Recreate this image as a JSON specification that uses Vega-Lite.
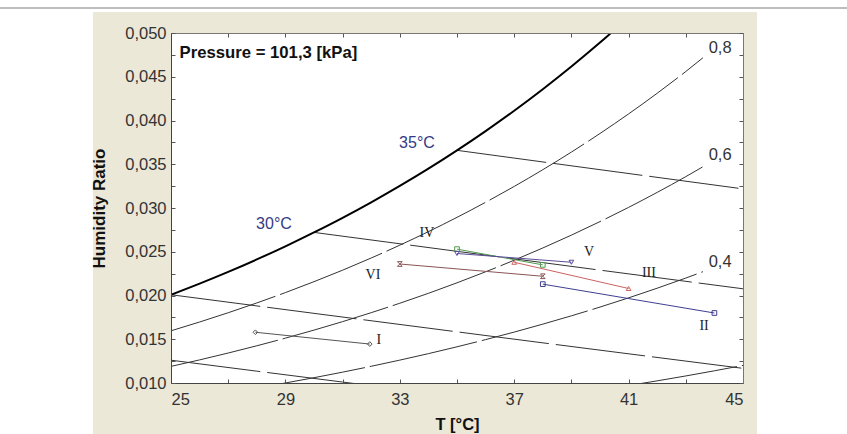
{
  "$schema": "https://vega.github.io/schema/vega-lite/v6.json",
  "autosize": "none",
  "width": 572,
  "height": 350,
  "padding": {"left": 171, "top": 33, "right": 104, "bottom": 51},
  "background": "white",
  "config": {
    "view": {"stroke": null},
    "axis": {"grid": false, "labelFont": "Liberation Sans", "titleFont": "Liberation Sans", "labelColor": "#333333", "titleColor": "#111111", "domainColor": "#555555", "tickColor": "#555555"}
  },
  "resolve": {"axis": {"x": "independent", "y": "independent"}},
  "datasets": {
    "sat": [
      {"T": 25, "W": 0.020087}, {"T": 26, "W": 0.021359}, {"T": 27, "W": 0.022701}, {"T": 28, "W": 0.024123},
      {"T": 29, "W": 0.025624}, {"T": 30, "W": 0.027212}, {"T": 31, "W": 0.028882}, {"T": 32, "W": 0.030655},
      {"T": 33, "W": 0.032526}, {"T": 34, "W": 0.034497}, {"T": 35, "W": 0.036590}, {"T": 36, "W": 0.038793},
      {"T": 37, "W": 0.041116}, {"T": 38, "W": 0.043574}, {"T": 39, "W": 0.046165}, {"T": 40, "W": 0.048903},
      {"T": 41, "W": 0.051788}
    ],
    "rh": [
      {"phi": "0.8", "T": 25, "W": 0.015966}, {"phi": "0.8", "T": 26, "W": 0.016970}, {"phi": "0.8", "T": 27, "W": 0.018030},
      {"phi": "0.8", "T": 28, "W": 0.019150}, {"phi": "0.8", "T": 29, "W": 0.020331}, {"phi": "0.8", "T": 30, "W": 0.021581},
      {"phi": "0.8", "T": 31, "W": 0.022893}, {"phi": "0.8", "T": 32, "W": 0.024284}, {"phi": "0.8", "T": 33, "W": 0.025752},
      {"phi": "0.8", "T": 34, "W": 0.027295}, {"phi": "0.8", "T": 35, "W": 0.028931}, {"phi": "0.8", "T": 36, "W": 0.030652},
      {"phi": "0.8", "T": 37, "W": 0.032464}, {"phi": "0.8", "T": 38, "W": 0.034378}, {"phi": "0.8", "T": 39, "W": 0.036391},
      {"phi": "0.8", "T": 40, "W": 0.038517}, {"phi": "0.8", "T": 41, "W": 0.040752}, {"phi": "0.8", "T": 42, "W": 0.043114},
      {"phi": "0.8", "T": 43, "W": 0.045600}, {"phi": "0.8", "T": 43.6, "W": 0.047171},
      {"phi": "0.6", "T": 25, "W": 0.011898}, {"phi": "0.6", "T": 26, "W": 0.012641}, {"phi": "0.6", "T": 27, "W": 0.013425},
      {"phi": "0.6", "T": 28, "W": 0.014253}, {"phi": "0.6", "T": 29, "W": 0.015125}, {"phi": "0.6", "T": 30, "W": 0.016046},
      {"phi": "0.6", "T": 31, "W": 0.017013}, {"phi": "0.6", "T": 32, "W": 0.018037}, {"phi": "0.6", "T": 33, "W": 0.019116},
      {"phi": "0.6", "T": 34, "W": 0.020249}, {"phi": "0.6", "T": 35, "W": 0.021449}, {"phi": "0.6", "T": 36, "W": 0.022709},
      {"phi": "0.6", "T": 37, "W": 0.024034}, {"phi": "0.6", "T": 38, "W": 0.025432}, {"phi": "0.6", "T": 39, "W": 0.026900},
      {"phi": "0.6", "T": 40, "W": 0.028448}, {"phi": "0.6", "T": 41, "W": 0.030071}, {"phi": "0.6", "T": 42, "W": 0.031784},
      {"phi": "0.6", "T": 43, "W": 0.033584}, {"phi": "0.6", "T": 43.7, "W": 0.034909},
      {"phi": "0.4", "T": 28, "W": 0.009430}, {"phi": "0.4", "T": 29, "W": 0.010002}, {"phi": "0.4", "T": 30, "W": 0.010606},
      {"phi": "0.4", "T": 31, "W": 0.011240}, {"phi": "0.4", "T": 32, "W": 0.011910}, {"phi": "0.4", "T": 33, "W": 0.012615},
      {"phi": "0.4", "T": 34, "W": 0.013354}, {"phi": "0.4", "T": 35, "W": 0.014137}, {"phi": "0.4", "T": 36, "W": 0.014958},
      {"phi": "0.4", "T": 37, "W": 0.015819}, {"phi": "0.4", "T": 38, "W": 0.016727}, {"phi": "0.4", "T": 39, "W": 0.017678},
      {"phi": "0.4", "T": 40, "W": 0.018680}, {"phi": "0.4", "T": 41, "W": 0.019729}, {"phi": "0.4", "T": 42, "W": 0.020835},
      {"phi": "0.4", "T": 43, "W": 0.021994}, {"phi": "0.4", "T": 43.6, "W": 0.022724},
      {"phi": "0.2", "T": 41, "W": 0.009711}, {"phi": "0.2", "T": 42, "W": 0.010246}, {"phi": "0.2", "T": 43, "W": 0.010806},
      {"phi": "0.2", "T": 44, "W": 0.011394}, {"phi": "0.2", "T": 45, "W": 0.012008}
    ],
    "wb": [
      {"twb": "20", "T": 25, "W": 0.012604}, {"twb": "20", "T": 28, "W": 0.011353}, {"twb": "20", "T": 31, "W": 0.010108}, {"twb": "20", "T": 32, "W": 0.009694},
      {"twb": "25", "T": 25, "W": 0.020087}, {"twb": "25", "T": 30, "W": 0.017959}, {"twb": "25", "T": 35, "W": 0.015848}, {"twb": "25", "T": 40, "W": 0.013752}, {"twb": "25", "T": 45, "W": 0.011673},
      {"twb": "30", "T": 30, "W": 0.027212}, {"twb": "30", "T": 35, "W": 0.025048}, {"twb": "30", "T": 40, "W": 0.022899}, {"twb": "30", "T": 45, "W": 0.020767},
      {"twb": "35", "T": 35, "W": 0.036590}, {"twb": "35", "T": 40, "W": 0.034379}, {"twb": "35", "T": 45, "W": 0.032185}
    ],
    "exp": [
      {"s": "I", "T": 27.95, "W": 0.0158}, {"s": "I", "T": 31.95, "W": 0.01445},
      {"s": "II", "T": 38, "W": 0.0213}, {"s": "II", "T": 44, "W": 0.018},
      {"s": "III", "T": 37, "W": 0.0238}, {"s": "III", "T": 41, "W": 0.0208},
      {"s": "IV", "T": 35, "W": 0.0253}, {"s": "IV", "T": 38, "W": 0.0235},
      {"s": "V", "T": 35, "W": 0.0248}, {"s": "V", "T": 39, "W": 0.0238},
      {"s": "VI", "T": 33, "W": 0.0236}, {"s": "VI", "T": 38, "W": 0.0222}
    ],
    "roman": [
      {"label": "I", "T": 32.27, "W": 0.01491}, {"label": "II", "T": 43.64, "W": 0.01651},
      {"label": "III", "T": 41.71, "W": 0.02257}, {"label": "IV", "T": 33.95, "W": 0.02714},
      {"label": "V", "T": 39.62, "W": 0.02497}, {"label": "VI", "T": 32.06, "W": 0.02234}
    ],
    "rhlab": [
      {"label": "0,8", "T": 44.2, "W": 0.04829}, {"label": "0,6", "T": 44.2, "W": 0.03606}, {"label": "0,4", "T": 44.2, "W": 0.02383}
    ],
    "wblab": [
      {"label": "30°C", "T": 28.6, "W": 0.02817}, {"label": "35°C", "T": 33.6, "W": 0.03743}
    ],
    "note": [
      {"label": "Pressure = 101,3 [kPa]", "T": 25.3, "W": 0.04771}
    ]
  },
  "layer": [
    {
      "data": {"values": [{}]},
      "mark": {"type": "rect", "fill": "#ebe8d8", "clip": false},
      "encoding": {
        "x": {"datum": 22.27, "type": "quantitative", "scale": {"domain": [25, 45], "nice": false, "zero": false}, "axis": null},
        "x2": {"datum": 45.49},
        "y": {"datum": 0.0524, "type": "quantitative", "scale": {"domain": [0.01, 0.05], "nice": false, "zero": false}, "axis": null},
        "y2": {"datum": 0.004}
      }
    },
    {
      "data": {"values": [{}]},
      "mark": {"type": "rule", "stroke": "#bdbdbd", "strokeWidth": 2, "clip": false},
      "encoding": {
        "x": {"datum": 19.02, "type": "quantitative", "axis": null},
        "x2": {"datum": 48.64},
        "y": {"datum": 0.05286, "type": "quantitative", "axis": null}
      }
    },
    {
      "data": {"values": [{}]},
      "mark": {"type": "rect", "fill": "white", "clip": false},
      "encoding": {
        "x": {"datum": 25, "type": "quantitative",
          "axis": {"orient": "bottom", "zindex": 5, "values": [25, 27, 29, 31, 33, 35, 37, 39, 41, 43, 45], "labelExpr": "(datum.value - 25) % 4 == 0 ? datum.value : ''", "tickSize": -4, "labelPadding": 12, "labelFontSize": 16.5, "title": "T [°C]", "titleFontSize": 16.5, "titleFontWeight": "bold", "titlePadding": 9, "domainColor": "#444444"}},
        "x2": {"datum": 45},
        "y": {"datum": 0.01, "type": "quantitative",
          "axis": {"orient": "left", "zindex": 5, "values": [0.01, 0.0125, 0.015, 0.0175, 0.02, 0.0225, 0.025, 0.0275, 0.03, 0.0325, 0.035, 0.0375, 0.04, 0.0425, 0.045, 0.0475, 0.05], "labelExpr": "round(datum.value * 10000) % 50 == 0 ? replace(format(datum.value, '.3f'), '.', ',') : ''", "tickSize": -4, "labelPadding": 9, "labelFontSize": 16.5, "title": "Humidity Ratio", "titleFontSize": 17, "titleFontWeight": "bold", "titlePadding": 16, "domainColor": "#444444"}},
        "y2": {"datum": 0.05}
      }
    },
    {
      "data": {"name": "rh"},
      "mark": {"type": "line", "stroke": "#333333", "strokeWidth": 1, "strokeDash": [110, 5], "clip": true, "interpolate": "monotone"},
      "encoding": {
        "x": {"field": "T", "type": "quantitative", "axis": null},
        "y": {"field": "W", "type": "quantitative", "axis": null},
        "detail": {"field": "phi"}
      }
    },
    {
      "data": {"name": "wb"},
      "mark": {"type": "line", "stroke": "#333333", "strokeWidth": 1, "strokeDash": [90, 7], "clip": true},
      "encoding": {
        "x": {"field": "T", "type": "quantitative", "axis": null},
        "y": {"field": "W", "type": "quantitative", "axis": null},
        "detail": {"field": "twb"}
      }
    },
    {
      "data": {"name": "sat"},
      "mark": {"type": "line", "stroke": "#000000", "strokeWidth": 2, "clip": true, "interpolate": "monotone"},
      "encoding": {
        "x": {"field": "T", "type": "quantitative",
          "axis": {"orient": "top", "zindex": 5, "values": [25, 27, 29, 31, 33, 35, 37, 39, 41, 43, 45], "labels": false, "tickSize": -4, "title": null, "domainColor": "#777777"}},
        "y": {"field": "W", "type": "quantitative",
          "axis": {"orient": "right", "zindex": 5, "values": [0.01, 0.0125, 0.015, 0.0175, 0.02, 0.0225, 0.025, 0.0275, 0.03, 0.0325, 0.035, 0.0375, 0.04, 0.0425, 0.045, 0.0475, 0.05], "labels": false, "tickSize": -4, "title": null, "domainColor": "#777777"}}
      }
    },
    {
      "data": {"name": "exp"},
      "mark": {"type": "line", "strokeWidth": 1},
      "encoding": {
        "x": {"field": "T", "type": "quantitative", "axis": null},
        "y": {"field": "W", "type": "quantitative", "axis": null},
        "color": {"field": "s", "type": "nominal", "legend": null,
          "scale": {"domain": ["I", "II", "III", "IV", "V", "VI"], "range": ["#555555", "#3f3f90", "#cc6262", "#4f9a4f", "#5b4b9b", "#8a5555"]}}
      }
    },
    {
      "data": {"name": "exp"},
      "mark": {"type": "point", "filled": false, "size": 22, "strokeWidth": 1, "opacity": 1},
      "encoding": {
        "x": {"field": "T", "type": "quantitative", "axis": null},
        "y": {"field": "W", "type": "quantitative", "axis": null},
        "color": {"field": "s", "type": "nominal", "legend": null},
        "shape": {"field": "s", "type": "nominal", "legend": null,
          "scale": {"domain": ["I", "II", "III", "IV", "V", "VI"], "range": ["diamond", "square", "triangle-up", "square", "triangle-down", "M-1,-1L1,-1L-1,1L1,1Z"]}}
      }
    },
    {
      "data": {"name": "roman"},
      "mark": {"type": "text", "font": "Liberation Serif", "fontSize": 14, "color": "#222222", "align": "center", "baseline": "middle"},
      "encoding": {
        "x": {"field": "T", "type": "quantitative", "axis": null},
        "y": {"field": "W", "type": "quantitative", "axis": null},
        "text": {"field": "label"}
      }
    },
    {
      "data": {"name": "rhlab"},
      "mark": {"type": "text", "font": "Liberation Sans", "fontSize": 16.5, "color": "#333333", "align": "center", "baseline": "middle"},
      "encoding": {
        "x": {"field": "T", "type": "quantitative", "axis": null},
        "y": {"field": "W", "type": "quantitative", "axis": null},
        "text": {"field": "label"}
      }
    },
    {
      "data": {"name": "wblab"},
      "mark": {"type": "text", "font": "Liberation Sans", "fontSize": 16, "color": "#343a86", "align": "center", "baseline": "middle"},
      "encoding": {
        "x": {"field": "T", "type": "quantitative", "axis": null},
        "y": {"field": "W", "type": "quantitative", "axis": null},
        "text": {"field": "label"}
      }
    },
    {
      "data": {"name": "note"},
      "mark": {"type": "text", "font": "Liberation Sans", "fontSize": 16.7, "fontWeight": "bold", "color": "#111111", "align": "left", "baseline": "middle"},
      "encoding": {
        "x": {"field": "T", "type": "quantitative", "axis": null},
        "y": {"field": "W", "type": "quantitative", "axis": null},
        "text": {"field": "label"}
      }
    }
  ]
}
